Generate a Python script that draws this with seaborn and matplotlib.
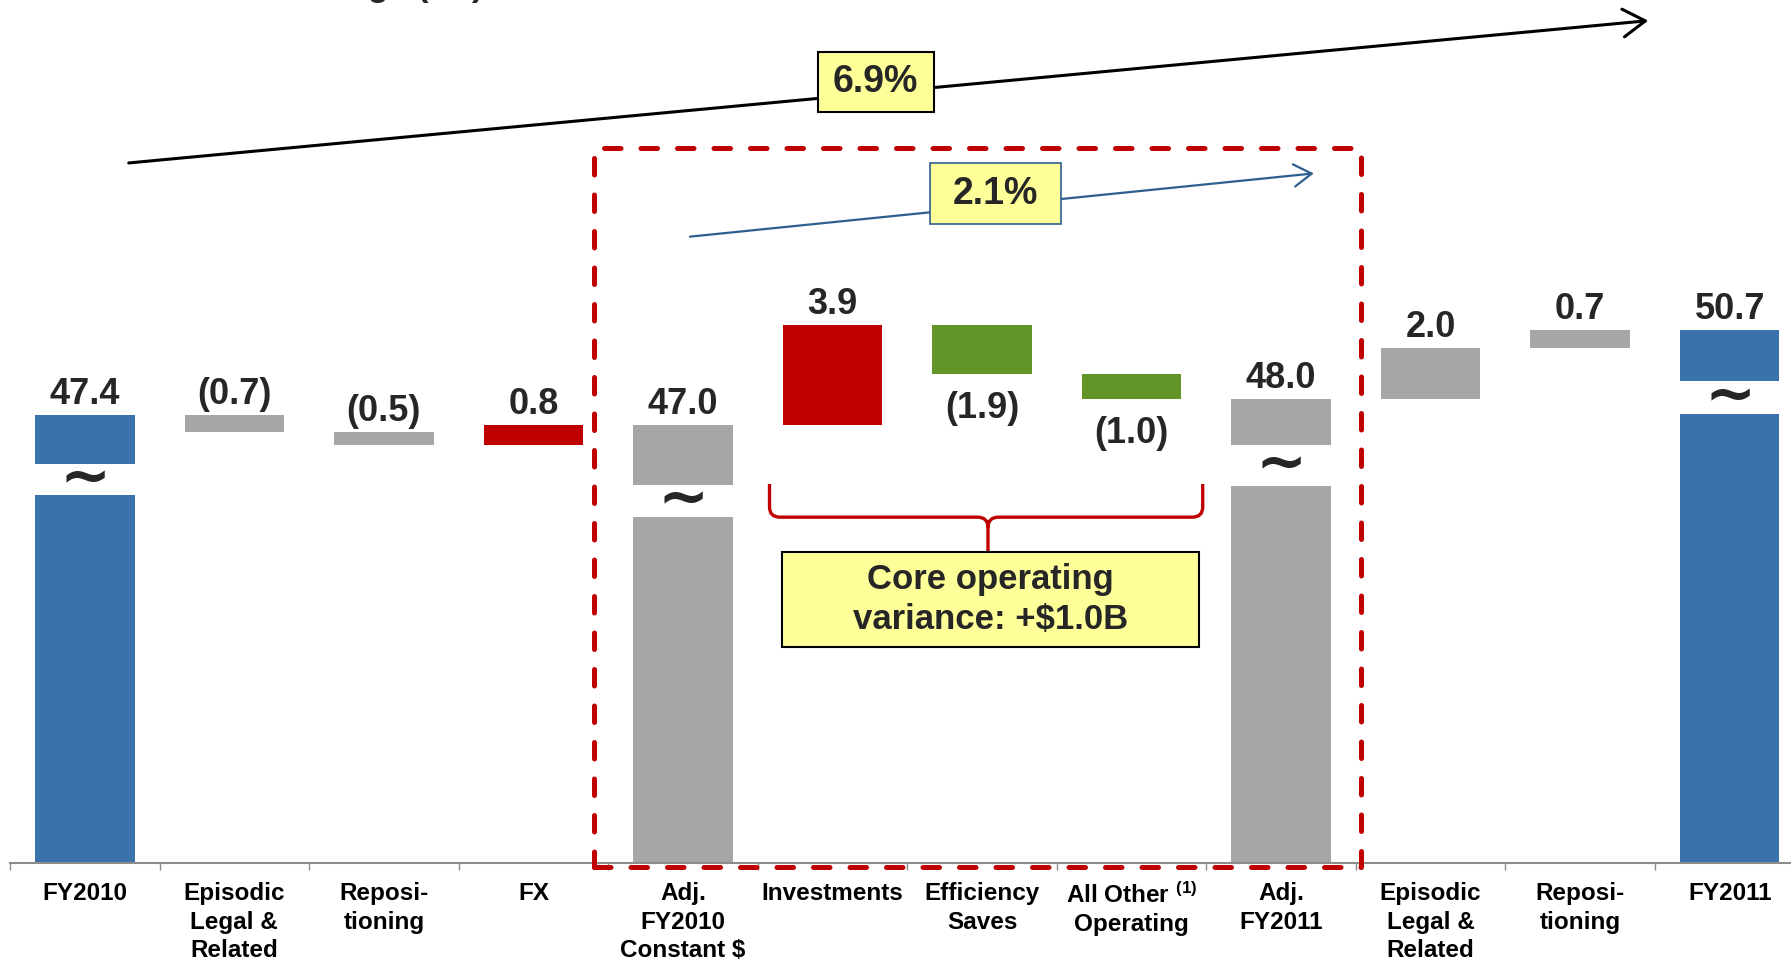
"""
Waterfall: FY2010 -> FY2011 ($B), com eixo quebrado nos totais.
Saída: out.png (1791x960)
"""
import numpy as np
import pandas as pd
import matplotlib.pyplot as plt
import seaborn as sns
from matplotlib.patches import Rectangle, PathPatch
from matplotlib.path import Path

# ---- dados ----
CATEGORIES = [
    "FY2010",
    "Episodic\nLegal &\nRelated",
    "Reposi-\ntioning",
    "FX",
    "Adj.\nFY2010\nConstant \\$",
    "Investments",
    "Efficiency\nSaves",
    "All Other $^{(1)}$\nOperating",
    "Adj.\nFY2011",
    "Episodic\nLegal &\nRelated",
    "Reposi-\ntioning",
    "FY2011",
]
VALUES = [47.4, -0.7, -0.5, 0.8, 47.0, 3.9, -1.9, -1.0, 48.0, 2.0, 0.7, 50.7]
IS_TOTAL = [True, False, False, False, True, False, False, False, True, False, False, True]
VALUE_LABELS = ["47.4", "(0.7)", "(0.5)", "0.8", "47.0", "3.9", "(1.9)", "(1.0)",
                "48.0", "2.0", "0.7", "50.7"]
BAR_KIND = ["fy", "adj", "adj", "up", "adj", "up", "down", "down", "adj", "adj", "adj", "fy"]
LABEL_BELOW = [False, False, False, False, False, False, True, True, False, False, False, False]
GROWTH_TOTAL = "6.9%"
GROWTH_CORE = "2.1%"
CORE_NOTE = "Core operating\nvariance: +\\$1.0B"
TITLE = "Year-over-Year Change (\\$B)"

# ---- estilo ----
COLORS = {"fy": "#3A72AC", "adj": "#A6A6A6", "up": "#C00000", "down": "#629428"}
RED = "#C00000"
YELLOW = "#FFFF99"
ARROW_BLUE = "#2F5F8F"
Y_FLOOR, Y_TOP = 29.83, 63.66
BREAK_SEG = [1.92, 2.35, 1.8, 2.0]   # altura do pedaço de cima dos totais
BREAK_GAP = [1.25, 1.25, 1.58, 1.27]

sns.set_theme(style="white")
plt.rcParams["font.family"] = ["Liberation Sans", "DejaVu Sans"]
plt.rcParams["font.weight"] = "bold"
plt.rcParams["mathtext.fontset"] = "custom"
plt.rcParams["mathtext.rm"] = "Liberation Sans:bold"
plt.rcParams["mathtext.bf"] = "Liberation Sans:bold"
plt.rcParams["mathtext.default"] = "regular"


def main():
    # bases e topos do waterfall
    bottoms, tops = [], []
    running = 0.0
    for v, tot in zip(VALUES, IS_TOTAL):
        if tot:
            running = v
            bottoms.append(Y_FLOOR)
            tops.append(v)
        else:
            lo, hi = sorted((running, running + v))
            bottoms.append(lo)
            tops.append(hi)
            running += v

    df = pd.DataFrame({
        "pos": np.arange(len(CATEGORIES)),
        "height": np.array(tops) - np.array(bottoms),
        "bottom": bottoms,
    })

    fig = plt.figure(figsize=(17.91, 9.60), dpi=100)
    ax = fig.add_axes([10 / 1791, (960 - 862.7) / 960, 1 - 10 / 1791, 862.7 / 960])

    sns.barplot(data=df, x="pos", y="height", bottom=df["bottom"].values,
                color="grey", saturation=1, width=0.666, errorbar=None,
                linewidth=0, edgecolor="none", ax=ax)
    for patch, kind in zip(ax.patches, BAR_KIND):
        patch.set_facecolor(COLORS[kind])

    # quebras nos totais
    tot_idx = [i for i, t in enumerate(IS_TOTAL) if t]
    for k, i in enumerate(tot_idx):
        g_top = tops[i] - BREAK_SEG[k]
        g_bot = g_top - BREAK_GAP[k]
        ax.bar(i, g_top - g_bot, bottom=g_bot, width=0.7, color="white",
               linewidth=0, zorder=3)
        ax.text(i, (g_top + g_bot) / 2, "~", ha="center", va="center",
                fontsize=44, fontweight="bold", family="DejaVu Sans", zorder=4)

    # rótulos dos valores
    for i, (lab, below) in enumerate(zip(VALUE_LABELS, LABEL_BELOW)):
        if below:
            ax.annotate(lab, (i, bottoms[i]), xytext=(0, -12), textcoords="offset points",
                        ha="center", va="top", fontsize=26, fontweight="bold")
        else:
            ax.annotate(lab, (i, tops[i]), xytext=(0, 8), textcoords="offset points",
                        ha="center", va="baseline", fontsize=26, fontweight="bold")

    # eixos
    ax.set_xlim(-0.5, 11.41)
    ax.set_ylim(Y_FLOOR, Y_TOP)
    ax.set_xticks(range(len(CATEGORIES)))
    ax.set_xticklabels(CATEGORIES, fontsize=17.5, fontweight="bold", linespacing=1.3)
    ax.set_xticks(np.arange(-0.5, 11, 1), minor=True)
    ax.tick_params(axis="x", which="major", length=0, pad=14, colors="black")
    ax.tick_params(axis="x", which="minor", length=5, width=1, color="#8C8C8C",
                   direction="out", bottom=True)
    ax.set_yticks([])
    ax.set_xlabel("")
    ax.set_ylabel("")
    for s in ["left", "top", "right"]:
        ax.spines[s].set_visible(False)
    ax.spines["bottom"].set_color("#8C8C8C")
    ax.spines["bottom"].set_linewidth(1.5)

    # retângulo tracejado (ajustado)
    ax.add_patch(Rectangle((3.405, 29.66), 8.535 - 3.405, 57.85 - 29.66, fill=False,
                           edgecolor=RED, linewidth=3.6, linestyle=(0, (3.3, 4.0)),
                           capstyle="round", joinstyle="round", clip_on=False, zorder=6))

    # setas de crescimento
    ax.annotate("", xy=(10.455, 62.85), xytext=(0.294, 57.27),
                arrowprops=dict(arrowstyle="->,head_length=0.4,head_width=0.25",
                                lw=2.2, color="black", mutation_scale=40,
                                shrinkA=0, shrinkB=0), zorder=4)
    ax.annotate("", xy=(8.219, 56.86), xytext=(4.047, 54.38),
                arrowprops=dict(arrowstyle="->,head_length=0.4,head_width=0.25",
                                lw=1.6, color=ARROW_BLUE, mutation_scale=32,
                                shrinkA=0, shrinkB=0), zorder=4)

    ax.add_patch(Rectangle((4.900, 59.26), 5.676 - 4.900, 61.62 - 59.26, facecolor=YELLOW,
                           edgecolor="black", linewidth=1.5, zorder=5))
    ax.text((4.900 + 5.676) / 2, (59.26 + 61.62) / 2, GROWTH_TOTAL, ha="center",
            va="center", fontsize=27, fontweight="bold", zorder=6)
    ax.add_patch(Rectangle((5.649, 54.87), 6.526 - 5.649, 57.27 - 54.87, facecolor=YELLOW,
                           edgecolor=ARROW_BLUE, linewidth=1.2, zorder=5))
    ax.text((5.649 + 6.526) / 2, (54.87 + 57.27) / 2, GROWTH_CORE, ha="center",
            va="center", fontsize=27, fontweight="bold", zorder=6)

    # chave + caixa "core operating"
    x0, x1, xc = 4.579, 7.476, 6.04
    y_top, y_mid, y_stem = 44.68, 43.38, 42.01
    rx, ry = 0.07, 0.4
    M, L, C = Path.MOVETO, Path.LINETO, Path.CURVE3
    verts = [(x0, y_top), (x0, y_mid + ry), (x0, y_mid), (x0 + rx, y_mid),
             (xc - rx, y_mid), (xc, y_mid), (xc, y_mid - ry), (xc, y_stem),
             (x1, y_top), (x1, y_mid + ry), (x1, y_mid), (x1 - rx, y_mid),
             (xc + rx, y_mid), (xc, y_mid), (xc, y_mid - ry)]
    codes = [M, L, C, C, L, C, C, L, M, L, C, C, L, C, C]
    ax.add_patch(PathPatch(Path(verts, codes), fill=False, edgecolor=RED, lw=2.4, zorder=5))

    ax.add_patch(Rectangle((4.662, 38.29), 7.452 - 4.662, 42.01 - 38.29, facecolor=YELLOW,
                           edgecolor="black", linewidth=1.5, zorder=5))
    ax.text((4.662 + 7.452) / 2, (38.29 + 42.01) / 2, CORE_NOTE, ha="center", va="center",
            fontsize=25, fontweight="bold", linespacing=1.3, zorder=6)

    # título cortado no topo (como no original: só os pés das letras aparecem)
    fig.text(35 / 1791, 1 + 4 / 960, TITLE, ha="left", va="baseline",
             fontsize=24.5, fontweight="bold")

    fig.savefig("out.png", dpi=100)


if __name__ == "__main__":
    main()
